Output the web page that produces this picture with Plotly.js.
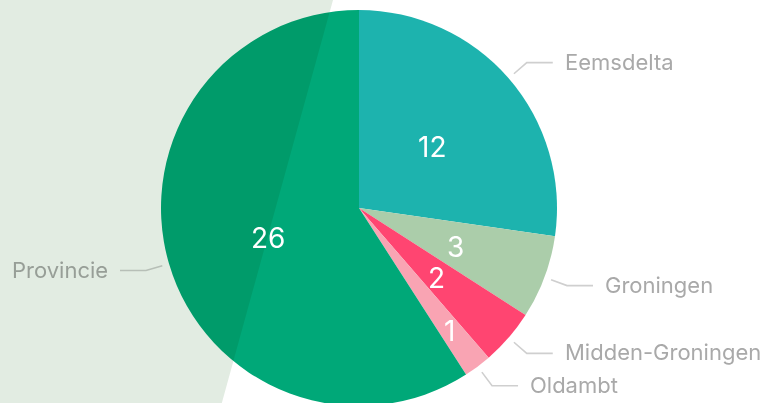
<!DOCTYPE html>
<html>
<head>
<meta charset="utf-8">
<script src="https://cdn.plot.ly/plotly-3.0.1.min.js"></script>
<style>
  html, body { margin: 0; padding: 0; overflow: hidden; background: #ffffff; }
  #chart { width: 763px; height: 406px; }
  .layer-above .shapelayer path { mix-blend-mode: multiply; }
</style>
</head>
<body>
<div id="chart"></div>
<script>
// ---- data ----
const categories = ['Eemsdelta', 'Groningen', 'Midden-Groningen', 'Oldambt', 'Provincie'];
const values = [12, 3, 2, 1, 26];
const sliceColors = ['#1db3ae', '#abcdaa', '#ff4571', '#f9a4b3', '#00a878'];

// ---- styling / geometry ----
const W = 763, H = 406, MT = 10;
const R = (H - MT) / 2;           // pie radius in px
const CX = 359, CY = MT + R;      // pie centre in px
const valueRadius = [0.49, 0.52, 0.52, 0.76, 0.48]; // fraction of radius for the value text
const labelColor = '#a9a9a9';
const lineColor = '#cfcfcf';
const fontFamily = 'Inter, "Noto Sans", sans-serif';

const px2x = p => p / W;
const py2y = p => (H - p) / (H - MT);

const total = values.reduce((a, b) => a + b, 0);
const annotations = [];
const shapes = [];
let cum = 0;
values.forEach((v, i) => {
  const mid = (cum + v / 2) / total * 2 * Math.PI;
  cum += v;
  const pt = r => [CX + r * Math.sin(mid), CY - r * Math.cos(mid)];
  // value inside slice
  const vp = pt(R * valueRadius[i]);
  annotations.push({
    x: px2x(vp[0]), y: py2y(vp[1] + 3), xref: 'paper', yref: 'paper',
    text: String(v), showarrow: false, xanchor: 'center', yanchor: 'middle',
    font: { family: fontFamily, size: 28, color: '#ffffff' }
  });
  // leader line + outside label
  const a = pt(R + 7), b = pt(R + 24);
  const right = Math.sin(mid) >= 0;
  const endX = b[0] + (right ? 26 : -26);
  shapes.push({
    type: 'path', xref: 'paper', yref: 'paper', layer: 'above',
    path: 'M' + px2x(a[0]) + ',' + py2y(a[1]) + ' L' + px2x(b[0]) + ',' + py2y(b[1]) + ' L' + px2x(endX) + ',' + py2y(b[1]),
    line: { color: lineColor, width: 1.6 }
  });
  annotations.push({
    x: px2x(endX + (right ? 10 : -10)), y: py2y(b[1] - 1), xref: 'paper', yref: 'paper',
    text: categories[i], showarrow: false, xanchor: right ? 'left' : 'right', yanchor: 'middle',
    font: { family: fontFamily, size: 22, color: right ? labelColor : '#979e97' }
  });
});

// light green background band (multiplied over everything)
const poly = [[0, 0], [333, 0], [221, H], [0, H]];
shapes.push({
  type: 'path', xref: 'paper', yref: 'paper', layer: 'above',
  path: poly.map((p, k) => (k ? 'L' : 'M') + px2x(p[0]) + ',' + py2y(p[1])).join(' ') + ' Z',
  fillcolor: '#e2ece2', line: { width: 0 }
});

const trace = {
  type: 'pie',
  labels: categories,
  values: values,
  sort: false,
  direction: 'clockwise',
  rotation: 0,
  marker: { colors: sliceColors, line: { width: 0 } },
  textinfo: 'none',
  hoverinfo: 'none',
  showlegend: false,
  domain: { x: [(CX - R) / W, (CX + R) / W], y: [0, 1] }
};

Plotly.newPlot('chart', [trace], {
  width: W, height: H,
  margin: { l: 0, r: 0, t: MT, b: 0 },
  paper_bgcolor: '#ffffff',
  showlegend: false,
  annotations: annotations,
  shapes: shapes
}, { displayModeBar: false, staticPlot: true });
</script>
</body>
</html>
